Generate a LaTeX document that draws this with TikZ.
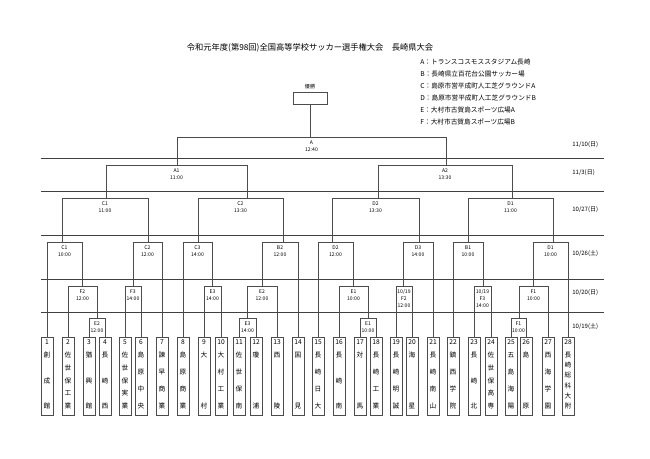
\documentclass[tikz,border=0pt]{standalone}
\usepackage{fontspec}
\setmainfont{Noto Sans CJK JP}
\tikzset{every picture/.style={line width=0.6pt}}
\tikzset{
  rule/.style={draw=black!75, line width=0.7pt},
  legline/.style={draw=black!70},
  teambox/.style={draw=black!70, minimum width=9pt, minimum height=58.5pt, inner sep=0pt, anchor=north},
  teamtxt/.style={font=\fontsize{5}{5}\selectfont, inner sep=0pt},
  matchtxt/.style={font=\fontsize{3.8}{5.2}\selectfont, align=center, inner sep=0pt, anchor=north},
  datetxt/.style={font=\fontsize{4.5}{5}\selectfont, anchor=west, inner sep=0pt},
  legendtxt/.style={font=\fontsize{5}{6}\selectfont, anchor=west, inner sep=0pt}
}
% name, x, number, count, characters
\newcommand\team[5]{%
  \node[teambox] (#1) at (#2,337) {};
  \node[teamtxt] (#1n) at (#2,342) {#3};
  \foreach \c [count=\i] in {#5} {\node[teamtxt] at (#2,{355+(\i-1)*51/(#4-1)}) {\c};}
}
% name, left x, right x, top y, left leg end, right leg end, label
\newcommand\match[7]{%
  \draw[legline] (#2,#5) -- (#2,#4) -- (#3,#4) -- (#3,#6);
  \node[matchtxt] (#1) at ({(#2+#3)/2},#4+3) {#7};
}

\begin{document}
\begin{tikzpicture}[x=0.75pt,y=0.75pt,yscale=-1,xscale=1]
\useasboundingbox (0,0) rectangle (650,459);

% title and legend
\node[font=\fontsize{6.2}{7}\selectfont, inner sep=0pt] (title) at (310,48) {令和元年度(第98回)全国高等学校サッカー選手権大会\quad 長崎県大会};
\node[legendtxt] (vA) at (420,62) {A：トランスコスモススタジアム長崎};
\node[legendtxt] (vB) at (420,74) {B：長崎県立百花台公園サッカー場};
\node[legendtxt] (vC) at (420,86) {C：島原市営平成町人工芝グラウンドA};
\node[legendtxt] (vD) at (420,98) {D：島原市営平成町人工芝グラウンドB};
\node[legendtxt] (vE) at (420,110) {E：大村市古賀島スポーツ広場A};
\node[legendtxt] (vF) at (420,122) {F：大村市古賀島スポーツ広場B};

% champion
\node[matchtxt] (champ) at (310,84) {優勝};
\node[draw=black!70, minimum width=25.5pt, minimum height=9pt, inner sep=0pt, anchor=north] (cbox) at (310,92) {};
\draw[legline] (cbox.south) -- (310,137);

% day rules
\foreach \y in {158,191,235,279,312} {\draw[rule] (41,\y) -- (604,\y);}
\node[datetxt] (d1) at (572,145) {11/10(日)};
\node[datetxt] (d2) at (572,173) {11/3(日)};
\node[datetxt] (d3) at (572,210) {10/27(日)};
\node[datetxt] (d4) at (572,254) {10/26(土)};
\node[datetxt] (d5) at (572,293) {10/20(日)};
\node[datetxt] (d6) at (572,327) {10/19(土)};

% final and semifinals
\match{mA}{177}{446}{137}{165}{165}{A\\12:40}
\match{mA1}{106}{247}{165}{198}{198}{A1\\11:00}
\match{mA2}{378}{512}{165}{198}{198}{A2\\13:30}

% 10/27
\match{qC1}{62}{148}{198}{242}{242}{C1\\11:00}
\match{qC2}{198}{283}{198}{242}{242}{C2\\13:30}
\match{qD2}{332}{419}{198}{242}{242}{D2\\13:30}
\match{qD1}{468}{553}{198}{242}{242}{D1\\11:00}

% 10/26
\match{rC1}{47}{82}{242}{337}{286}{C1\\10:00}
\match{rC2}{133}{162}{242}{286}{337}{C2\\12:00}
\match{rC3}{183}{212}{242}{337}{286}{C3\\14:00}
\match{rB2}{262}{298}{242}{286}{337}{B2\\12:00}
\match{rD2}{318}{353}{242}{337}{286}{D2\\12:00}
\match{rD3}{403}{433}{242}{286}{337}{D3\\14:00}
\match{rB1}{453}{483}{242}{337}{286}{B1\\10:00}
\match{rD1}{533}{568}{242}{286}{337}{D1\\10:00}

% 10/20
\match{sF2}{68}{97}{286}{337}{318}{F2\\12:00}
\match{sF3}{125}{141}{286}{337}{337}{F3\\14:00}
\match{sE3}{204}{221}{286}{337}{337}{E3\\14:00}
\match{sE2}{247}{277}{286}{318}{337}{E2\\12:00}
\match{sE1}{339}{368}{286}{337}{318}{E1\\10:00}
\match{sF2b}{396}{412}{286}{337}{337}{10/19\\F2\\12:00}
\match{sF3b}{474}{491}{286}{337}{337}{10/19\\F3\\14:00}
\match{sF1}{519}{548}{286}{318}{337}{F1\\10:00}

% 10/19
\match{tE2}{89}{105}{318}{337}{337}{E2\\12:00}
\match{tE3}{239}{256}{318}{337}{337}{E3\\14:00}
\match{tE1}{360}{376}{318}{337}{337}{E1\\10:00}
\match{tF1}{511}{526}{318}{337}{337}{F1\\10:00}

% teams
\team{t1}{47}{1}{3}{創,成,館}
\team{t2}{68}{2}{5}{佐,世,保,工,業}
\team{t3}{89}{3}{3}{猶,興,館}
\team{t4}{105}{4}{3}{長,崎,西}
\team{t5}{125}{5}{5}{佐,世,保,実,業}
\team{t6}{141}{6}{4}{島,原,中,央}
\team{t7}{162}{7}{4}{諫,早,商,業}
\team{t8}{183}{8}{4}{島,原,商,業}
\team{t9}{204}{9}{2}{大,村}
\team{t10}{221}{10}{4}{大,村,工,業}
\team{t11}{239}{11}{4}{佐,世,保,南}
\team{t12}{256}{12}{2}{瓊,浦}
\team{t13}{277}{13}{2}{西,陵}
\team{t14}{298}{14}{2}{国,見}
\team{t15}{318}{15}{4}{長,崎,日,大}
\team{t16}{339}{16}{3}{長,崎,南}
\team{t17}{360}{17}{2}{対,馬}
\team{t18}{376}{18}{4}{長,崎,工,業}
\team{t19}{396}{19}{4}{長,崎,明,誠}
\team{t20}{412}{20}{2}{海,星}
\team{t21}{433}{21}{4}{長,崎,南,山}
\team{t22}{453}{22}{4}{鎮,西,学,院}
\team{t23}{474}{23}{3}{長,崎,北}
\team{t24}{491}{24}{5}{佐,世,保,高,専}
\team{t25}{511}{25}{4}{五,島,海,陽}
\team{t26}{526}{26}{2}{島,原}
\team{t27}{548}{27}{4}{西,海,学,園}
\team{t28}{568}{28}{6}{長,崎,総,科,大,附}

\end{tikzpicture}
\end{document}
